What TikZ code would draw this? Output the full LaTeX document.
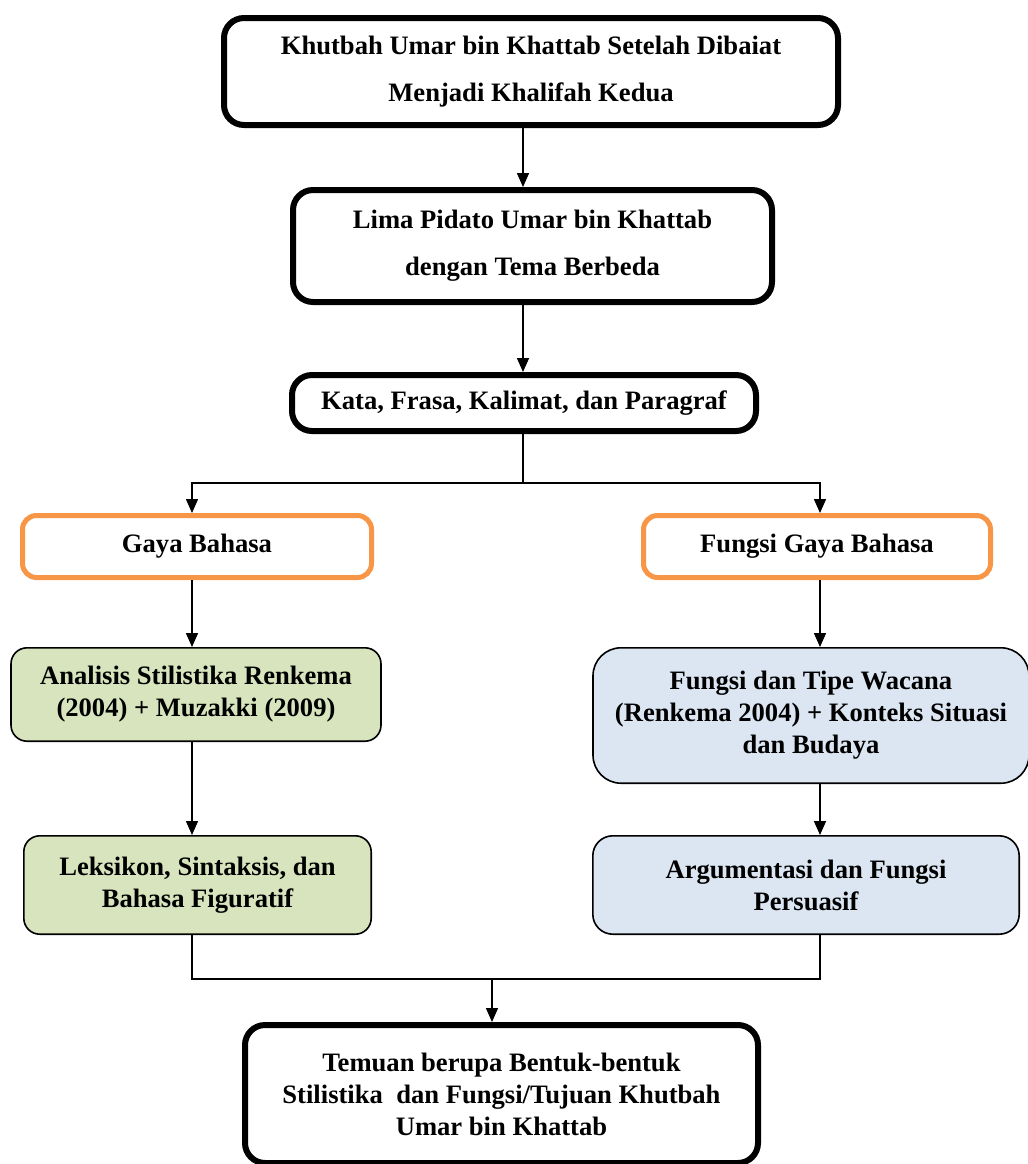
\documentclass[tikz,border=0pt]{standalone}
\usepackage{fontspec}
\setmainfont{Liberation Serif}
\usetikzlibrary{arrows.meta, positioning}
\definecolor{boxorange}{HTML}{F79646}
\definecolor{boxgreen}{HTML}{D7E4BD}
\definecolor{boxblue}{HTML}{DCE6F2}

\begin{document}
\begin{tikzpicture}[
            x=0.5pt, y=-0.5pt,
            font=\bfseries\fontsize{13.3}{16}\selectfont,
            mainbox/.style={rectangle, draw, line width=3pt,
                rounded corners=10pt, align=center, inner sep=2pt
            },
            topicbox/.style={rectangle, draw=boxorange, line width=2.5pt,
                rounded corners=7pt, align=center, inner sep=2pt
            },
            greenbox/.style={rectangle, draw, line width=0.8pt, fill=boxgreen,
                rounded corners=8pt, align=center, inner sep=2pt
            },
            bluebox/.style={rectangle, draw, line width=0.8pt, fill=boxblue,
                rounded corners=10pt, align=center, inner sep=2pt
            },
            line/.style={draw, line width=0.75pt, -{Triangle[length=7pt,width=6pt]}}
        ]
            \useasboundingbox (0,0) rectangle (1028,1164);

            % Kolom tengah
            \node [mainbox, minimum width=307pt, minimum height=53.5pt,
                font=\bfseries\fontsize{13.3}{23.5}\selectfont] (khutbah) at (531,71.5)
                {Khutbah Umar bin Khattab Setelah Dibaiat\\Menjadi Khalifah Kedua};
            \node [mainbox, minimum width=239.5pt, minimum height=56pt,
                font=\bfseries\fontsize{13.3}{23.5}\selectfont] (pidato) at (532.5,246)
                {Lima Pidato Umar bin Khattab\\dengan Tema Berbeda};
            \node [mainbox, minimum width=232pt, minimum height=28pt] (kata) at (524,403)
                {Kata, Frasa, Kalimat, dan Paragraf};

            % Cabang kiri dan kanan
            \node [topicbox, minimum width=174.5pt, minimum height=31pt] (gaya) at (197,546.5) {Gaya Bahasa};
            \node [topicbox, minimum width=173.5pt, minimum height=31pt] (fungsi) at (817,546.5) {Fungsi Gaya Bahasa};
            \node [greenbox, minimum width=185pt, minimum height=46.7pt] (analisis) at (196,694.5)
                {Analisis Stilistika Renkema\\(2004) + Muzakki (2009)};
            \node [bluebox, rounded corners=14pt, minimum width=218pt, minimum height=67.7pt] (wacana) at (811,715.5)
                {Fungsi dan Tipe Wacana\\(Renkema 2004) + Konteks Situasi\\dan Budaya};
            \node [greenbox, minimum width=173.7pt, minimum height=49.2pt] (leksikon) at (197.5,885)
                {Leksikon, Sintaksis, dan\\Bahasa Figuratif};
            \node [bluebox, minimum width=213.2pt, minimum height=49.2pt] (argumen) at (806,885)
                {Argumentasi dan Fungsi\\Persuasif};

            % Hasil akhir
            \node [mainbox, minimum width=256.5pt, minimum height=69pt] (temuan) at (501.5,1094)
                {Temuan berupa Bentuk-bentuk\\Stilistika~ dan Fungsi/Tujuan Khutbah\\Umar bin Khattab};

            % Titik bantu untuk garis
            \coordinate (axis) at (523,0);
            \coordinate (leftcol) at (192,0);
            \coordinate (rightcol) at (820,0);
            \coordinate (split) at (523,483);
            \coordinate (merge) at (492,979);

            % Garis dan panah
            \path [line] (khutbah.south -| axis) -- (pidato.north -| axis);
            \path [line] (pidato.south -| axis) -- (kata.north -| axis);
            \draw [line width=0.75pt] (kata.south -| axis) -- (split);
            \path [line] (split) -| (gaya.north -| leftcol);
            \path [line] (split) -| (fungsi.north -| rightcol);
            \path [line] (gaya.south -| leftcol) -- (analisis.north -| leftcol);
            \path [line] (fungsi.south -| rightcol) -- (wacana.north -| rightcol);
            \path [line] (analisis.south -| leftcol) -- (leksikon.north -| leftcol);
            \path [line] (wacana.south -| rightcol) -- (argumen.north -| rightcol);
            \draw [line width=0.75pt] (leksikon.south -| leftcol) |- (merge);
            \draw [line width=0.75pt] (argumen.south -| rightcol) |- (merge);
            \path [line] (merge) -- (temuan.north -| merge);
        \end{tikzpicture}
\end{document}
